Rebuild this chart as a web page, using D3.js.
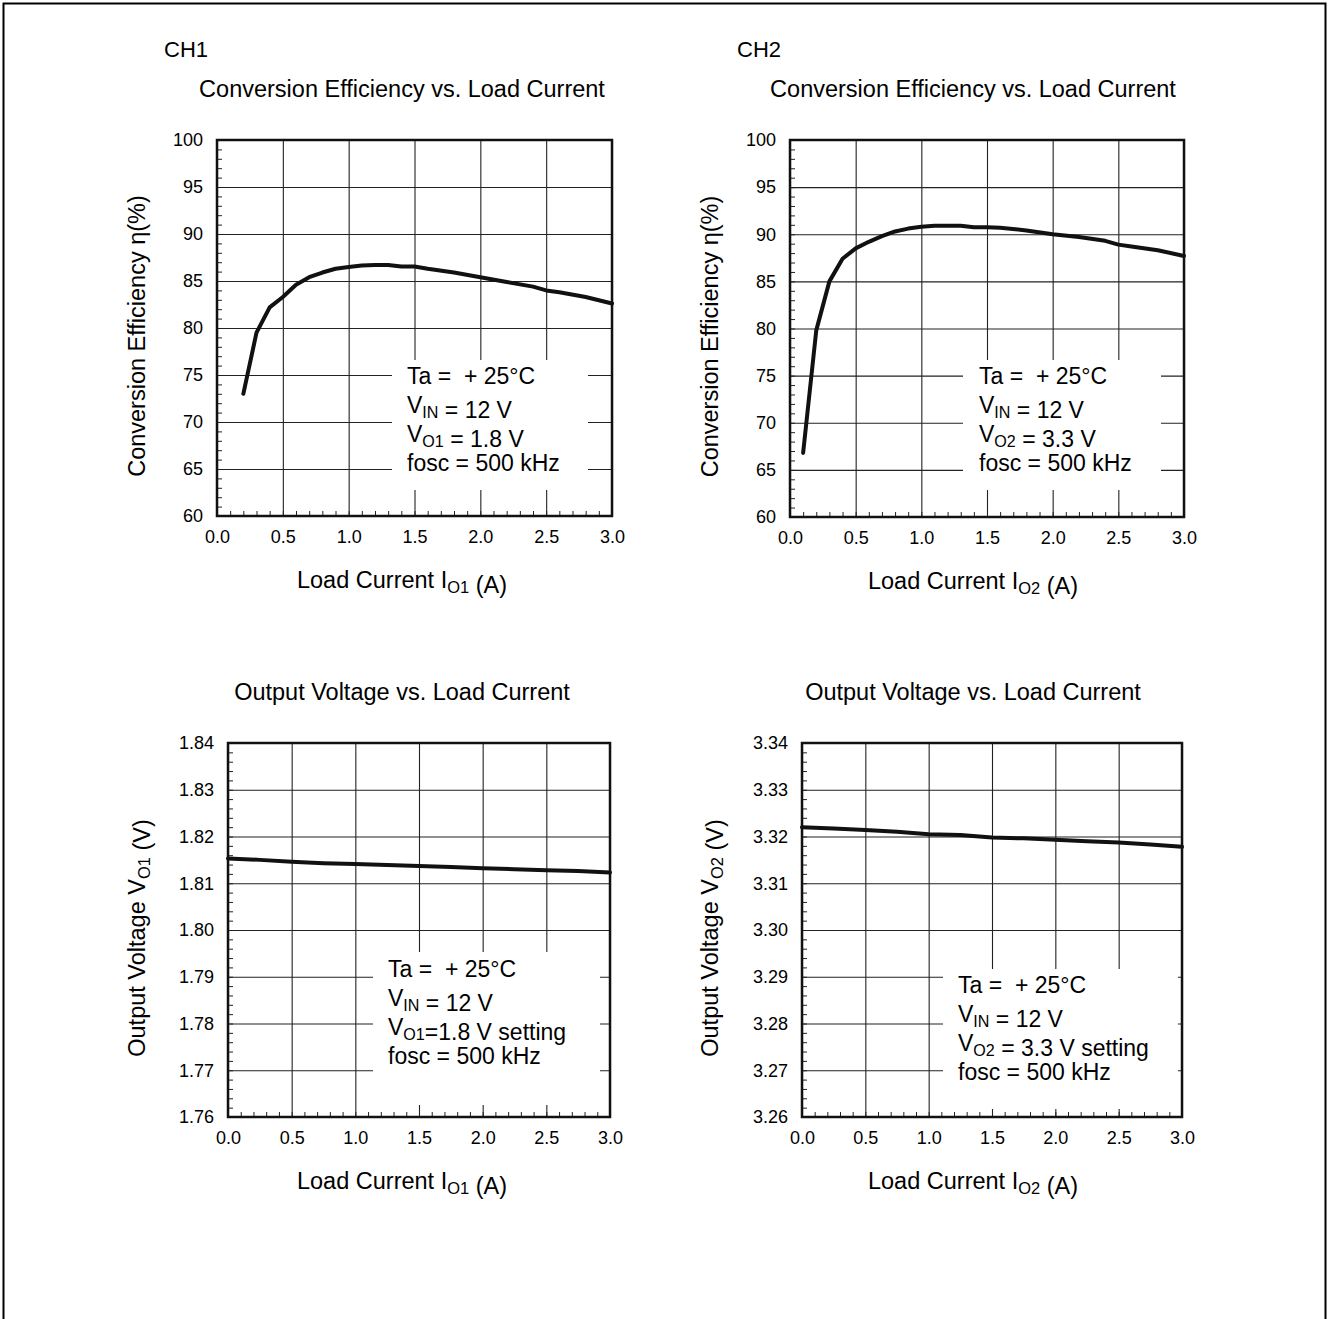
<!DOCTYPE html>
<html>
<head>
<meta charset="utf-8">
<script src="https://cdn.jsdelivr.net/npm/d3@7"></script>
<style>
  body { margin: 0; background: #fff; }
  text { font-family: "Liberation Sans", Arial, Helvetica, sans-serif; fill: #000; }
</style>
</head>
<body>
<div id="figure"></div>
<script>
//x axis ticks shared by all four plots
var currentTicks = [0.0, 0.5, 1.0, 1.5, 2.0, 2.5, 3.0];

//y axis ticks
var effTicks = [60, 65, 70, 75, 80, 85, 90, 95, 100];
var vo1Ticks = [1.76, 1.77, 1.78, 1.79, 1.80, 1.81, 1.82, 1.83, 1.84];
var vo2Ticks = [3.26, 3.27, 3.28, 3.29, 3.30, 3.31, 3.32, 3.33, 3.34];

//CH1 efficiency curve
var ch1EffCurrent = [0.2, 0.3, 0.4, 0.5, 0.6, 0.7, 0.8, 0.9, 1.0, 1.1, 1.2, 1.3, 1.4, 1.5, 1.6, 1.8, 2.0, 2.2, 2.4, 2.5, 2.6, 2.8, 3.0];
var ch1Eff = [73.0, 79.5, 82.2, 83.3, 84.6, 85.4, 85.9, 86.3, 86.5, 86.65, 86.7, 86.7, 86.55, 86.55, 86.3, 85.9, 85.4, 84.9, 84.4, 84.0, 83.8, 83.3, 82.6];

//CH2 efficiency curve
var ch2EffCurrent = [0.1, 0.2, 0.3, 0.4, 0.5, 0.6, 0.7, 0.8, 0.9, 1.0, 1.1, 1.2, 1.3, 1.4, 1.5, 1.6, 1.8, 2.0, 2.2, 2.4, 2.5, 2.6, 2.8, 3.0];
var ch2Eff = [66.8, 79.8, 85.0, 87.4, 88.5, 89.2, 89.8, 90.3, 90.6, 90.8, 90.9, 90.9, 90.9, 90.75, 90.75, 90.7, 90.4, 90.0, 89.7, 89.3, 88.9, 88.7, 88.3, 87.7];

//CH1 output voltage
var ch1VoutCurrent = [0, 0.25, 0.5, 0.75, 1.0, 1.25, 1.5, 1.75, 2.0, 2.25, 2.5, 2.75, 3.0];
var ch1Vout = [1.8153, 1.8150, 1.8146, 1.8143, 1.8141, 1.8139, 1.8137, 1.8135, 1.8132, 1.8130, 1.8128, 1.8126, 1.8123];

//CH2 output voltage
var ch2VoutCurrent = [0, 0.25, 0.5, 0.75, 1.0, 1.25, 1.5, 1.75, 2.0, 2.25, 2.5, 2.75, 3.0];
var ch2Vout = [3.3220, 3.3217, 3.3214, 3.3210, 3.3205, 3.3203, 3.3198, 3.3196, 3.3193, 3.3190, 3.3187, 3.3183, 3.3178];

//svg size
var svgW = 1328;
var svgH = 1319;

var svg = d3.select("#figure").append("svg")
    .attr("width", svgW)
    .attr("height", svgH);

//page frame (open at the bottom)
svg.append("path")
    .attr("d", `M3.5,${svgH} V3.5 H1325.5 V${svgH}`)
    .attr("fill", "none")
    .attr("stroke", "#000")
    .attr("stroke-width", 2);

//write a text made of plain and subscript parts
function richText(sel, parts) {
    parts.forEach(function(p) {
        if (typeof p === "string") {
            sel.append("tspan").text(p);
        } else {
            sel.append("tspan").attr("dy", 5).attr("font-size", "70%").text(p[0]);
            sel.append("tspan").attr("dy", -5).text("");
        }
    });
    return sel;
}

//channel headings
svg.append("text").attr("x", 164).attr("y", 57).attr("font-size", 22).text("CH1");
svg.append("text").attr("x", 737).attr("y", 57).attr("font-size", 22).text("CH2");

var charts = [
    {
        left: 217, top: 140, right: 612, bottom: 516, mid: 402, labelX: 145,
        title: "Conversion Efficiency vs. Load Current",
        xLabel: ["Load Current I", ["O1"], " (A)"],
        yLabel: ["Conversion Efficiency \u03b7(%)"],
        xs: ch1EffCurrent, ys: ch1Eff, yTicks: effTicks, yFmt: d3.format("d"),
        box: {x: 175, y: 220, w: 196, h: 130, tx: 190, ty: 244},
        legend: [["Ta =  + 25\u00b0C"], ["V", ["IN"], " = 12 V"], ["V", ["O1"], " = 1.8 V"], ["fosc = 500 kHz"]]
    },
    {
        left: 790, top: 140, right: 1184, bottom: 517, mid: 973, labelX: 718,
        title: "Conversion Efficiency vs. Load Current",
        xLabel: ["Load Current I", ["O2"], " (A)"],
        yLabel: ["Conversion Efficiency \u03b7(%)"],
        xs: ch2EffCurrent, ys: ch2Eff, yTicks: effTicks, yFmt: d3.format("d"),
        box: {x: 173, y: 220, w: 198, h: 130, tx: 189, ty: 244},
        legend: [["Ta =  + 25\u00b0C"], ["V", ["IN"], " = 12 V"], ["V", ["O2"], " = 3.3 V"], ["fosc = 500 kHz"]]
    },
    {
        left: 228, top: 743, right: 610, bottom: 1117, mid: 402, labelX: 145,
        title: "Output Voltage vs. Load Current",
        xLabel: ["Load Current I", ["O1"], " (A)"],
        yLabel: ["Output Voltage V", ["O1"], " (V)"],
        xs: ch1VoutCurrent, ys: ch1Vout, yTicks: vo1Ticks, yFmt: d3.format(".2f"),
        box: {x: 145, y: 209, w: 227, h: 153, tx: 160, ty: 234},
        legend: [["Ta =  + 25\u00b0C"], ["V", ["IN"], " = 12 V"], ["V", ["O1"], "=1.8 V setting"], ["fosc = 500 kHz"]]
    },
    {
        left: 802, top: 743, right: 1182, bottom: 1117, mid: 973, labelX: 718,
        title: "Output Voltage vs. Load Current",
        xLabel: ["Load Current I", ["O2"], " (A)"],
        yLabel: ["Output Voltage V", ["O2"], " (V)"],
        xs: ch2VoutCurrent, ys: ch2Vout, yTicks: vo2Ticks, yFmt: d3.format(".2f"),
        box: {x: 141, y: 226, w: 235, h: 140, tx: 156, ty: 250},
        legend: [["Ta =  + 25\u00b0C"], ["V", ["IN"], " = 12 V"], ["V", ["O2"], " = 3.3 V setting"], ["fosc = 500 kHz"]]
    }
];

function drawChart(c) {
    var width = c.right - c.left;
    var height = c.bottom - c.top;

    //scales
    var x = d3.scaleLinear().domain([0, 3]).range([0, width]);
    var y = d3.scaleLinear()
        .domain([c.yTicks[0], c.yTicks[c.yTicks.length - 1]])
        .range([height, 0]);

    var g = svg.append("g").attr("transform", `translate(${c.left}, ${c.top})`);

    //grid + tick labels
    var xAxis = g.append("g")
        .attr("transform", `translate(0, ${height})`)
        .call(d3.axisBottom(x).tickValues(currentTicks).tickFormat(d3.format(".1f"))
            .tickSize(-height).tickPadding(14));
    var yAxis = g.append("g")
        .call(d3.axisLeft(y).tickValues(c.yTicks).tickFormat(c.yFmt)
            .tickSize(-width).tickPadding(14));

    [xAxis, yAxis].forEach(function(a) {
        a.select(".domain").remove();
        a.attr("font-family", null).attr("font-size", null);
        a.selectAll("line").attr("stroke", "#222").attr("stroke-width", 1.1);
        a.selectAll("text").attr("font-size", 18);
    });

    //minor ticks inside the frame
    g.append("g")
        .attr("transform", `translate(0, ${height})`)
        .call(d3.axisBottom(x).ticks(30).tickSize(-5).tickFormat(""))
        .call(a => a.select(".domain").remove())
        .selectAll("line").attr("stroke", "#222");
    g.append("g")
        .call(d3.axisLeft(y).ticks(40).tickSize(-5).tickFormat(""))
        .call(a => a.select(".domain").remove())
        .selectAll("line").attr("stroke", "#222");

    //legend box hides the grid behind it
    g.append("rect")
        .attr("x", c.box.x).attr("y", c.box.y)
        .attr("width", c.box.w).attr("height", c.box.h)
        .attr("fill", "#fff");

    c.legend.forEach(function(line, i) {
        var t = g.append("text")
            .attr("x", c.box.tx)
            .attr("y", c.box.ty + i * 29)
            .attr("font-size", 23)
            .style("white-space", "pre");
        richText(t, line);
    });

    //plot frame
    g.append("rect")
        .attr("width", width).attr("height", height)
        .attr("fill", "none")
        .attr("stroke", "#111")
        .attr("stroke-width", 2.5);

    //curve
    var pts = c.xs.map((d, i) => [d, c.ys[i]]);
    g.append("path")
        .datum(pts)
        .attr("fill", "none")
        .attr("stroke", "#111")
        .attr("stroke-width", 4)
        .attr("stroke-linejoin", "round")
        .attr("stroke-linecap", "round")
        .attr("d", d3.line().x(d => x(d[0])).y(d => y(d[1])));

    //title
    svg.append("text")
        .attr("x", c.mid).attr("y", c.top - 43)
        .attr("text-anchor", "middle")
        .attr("font-size", 23.5)
        .text(c.title);

    //x label
    richText(svg.append("text")
        .attr("x", c.mid).attr("y", c.bottom + 72)
        .attr("text-anchor", "middle")
        .attr("font-size", 23.5), c.xLabel);

    //y label
    richText(svg.append("text")
        .attr("transform", `translate(${c.labelX}, ${(c.top + c.bottom) / 2 + 8}) rotate(-90)`)
        .attr("text-anchor", "middle")
        .attr("font-size", 23.5), c.yLabel);
}

charts.forEach(drawChart);
</script>
</body>
</html>
